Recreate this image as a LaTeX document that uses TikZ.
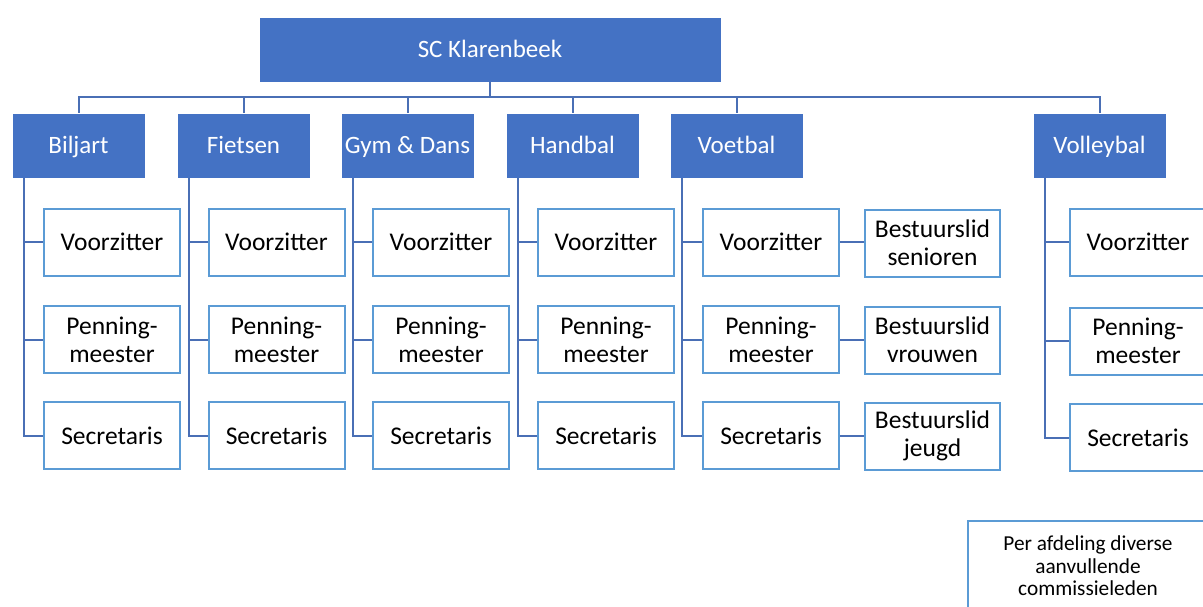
\documentclass[tikz,border=0pt]{standalone}
\usepackage{fontspec}
\setmainfont{Carlito}
\definecolor{hdr}{HTML}{4472C4}
\definecolor{bord}{HTML}{5B9BD5}
\definecolor{conn}{HTML}{4A6FB5}
\tikzset{
  head/.style={fill=hdr, draw=white, line width=0.8pt, text=white, minimum width=133pt, minimum height=65pt, inner sep=0pt, text height=20pt, text depth=4pt, font=\fontsize{25}{29}\selectfont},
  role/.style={fill=white, draw=bord, line width=2pt, text=black, minimum width=136pt, minimum height=67pt, inner sep=0pt, align=center, font=\fontsize{25.5}{28}\selectfont},
  link/.style={draw=conn, line width=2pt},
}
\begin{document}
\begin{tikzpicture}[x=1pt,y=-1pt]
\useasboundingbox (0,0) rectangle (1203,606);
\clip (0,0) rectangle (1203,606);
% top
\node[head, minimum width=462pt] (top) at (490,49.5) {SC Klarenbeek};
\coordinate (bus) at (490,97);
% departments
\node[head] (bil) at (78.5,145.5) {Biljart};
\node[head] (fie) at (243.5,145.5) {Fietsen};
\node[head] (gym) at (407.5,145.5) {Gym \& Dans};
\node[head] (han) at (572.5,145.5) {Handbal};
\node[head] (voe) at (736.5,145.5) {Voetbal};
\node[head] (vol) at (1099.5,145.5) {Volleybal};
\draw[link] (top.south) -- (bus);
\foreach \n in {bil,fie,gym,han,voe,vol} {\draw[link] (bus) -| (\n.north);}
% roles
\foreach \n/\cx in {bil/112,fie/276.5,gym/441,han/606,voe/771} {
  \node[role] (\n-v) at (\cx,242) {Voorzitter};
  \node[role] (\n-p) at (\cx,339.5) {Penning-\\meester};
  \node[role] (\n-s) at (\cx,435.5) {Secretaris};
  \draw[link] ([xshift=12pt]\n.south west) |- (\n-s.west);
  \draw[link] ([xshift=12pt]\n.south west) |- (\n-v.west);
  \draw[link] ([xshift=12pt]\n.south west) |- (\n-p.west);
}
\node[role] (vol-v) at (1138,242) {Voorzitter};
\node[role] (vol-p) at (1138,341) {Penning-\\meester};
\node[role] (vol-s) at (1138,437.5) {Secretaris};
\draw[link] ([xshift=12pt]vol.south west) |- (vol-s.west);
\draw[link] ([xshift=12pt]vol.south west) |- (vol-v.west);
\draw[link] ([xshift=12pt]vol.south west) |- (vol-p.west);
% voetbal extra
\node[role, minimum width=135pt] (bs) at (932.5,243) {Bestuurslid\\senioren};
\node[role, minimum width=135pt] (bv) at (932.5,340) {Bestuurslid\\vrouwen};
\node[role, minimum width=135pt] (bj) at (932.5,436) {Bestuurslid\\jeugd};
\draw[link] (voe-v.east) -- (voe-v.east -| bs.west);
\draw[link] (voe-p.east) -- (voe-p.east -| bv.west);
\draw[link] (voe-s.east) -- (voe-s.east -| bj.west);
% note
\node[role, minimum width=240pt, minimum height=90pt, font=\fontsize{21.3}{22.5}\selectfont] (note) at (1088,566) {Per afdeling diverse\\aanvullende\\commissieleden};
\end{tikzpicture}
\end{document}
